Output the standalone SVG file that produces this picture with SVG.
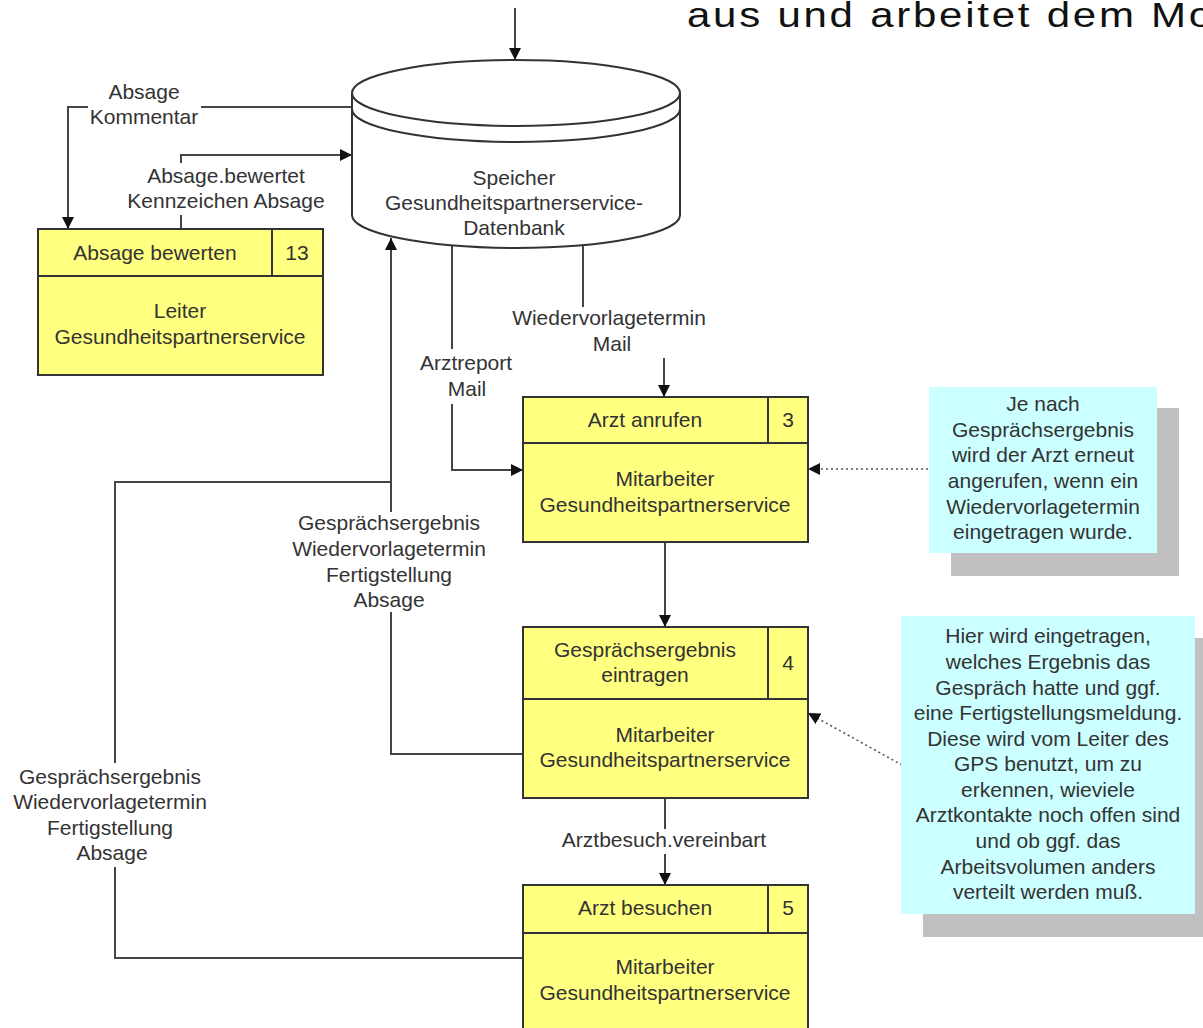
<svg xmlns="http://www.w3.org/2000/svg" width="1203" height="1028" viewBox="0 0 1203 1028">
  <style>
    text { font-family: "Liberation Sans", Arial, sans-serif; font-size: 21px; fill: #333; text-anchor: middle; }
    .box { fill: #ffff80; stroke: #333; stroke-width: 2; }
    .div { fill: none; stroke: #333; stroke-width: 2; }
    .flow { fill: none; stroke: #444; stroke-width: 2; }
    .dot { fill: none; stroke: #555; stroke-width: 1.6; stroke-dasharray: 2 3; }
    .bg { fill: #fff; }
    .note { fill: #ccffff; }
    .shadow { fill: #c0c0c0; }
    .title { font-size: 35px; fill: #111; text-anchor: start; letter-spacing: 2.3px; }
  </style>
  <defs>
    <marker id="arrow" viewBox="0 0 12 12" refX="12" refY="6" markerWidth="12" markerHeight="12" markerUnits="userSpaceOnUse" orient="auto">
      <path d="M0,0 L12,6 L0,12 Z" fill="#111"/>
    </marker>
  </defs>

  <rect width="1203" height="1028" fill="#fff"/>

  <!-- slide heading running off the right edge -->
  <text class="title" transform="translate(687,27) scale(1.2,1)">aus und arbeitet dem Mo</text>

  <!-- data flows -->
  <g id="connectors">
    <path class="flow" d="M515,8 V60" marker-end="url(#arrow)"/>
    <path class="flow" d="M352,107 H68 V229" marker-end="url(#arrow)"/>
    <path class="flow" d="M181,229 V155 H352" marker-end="url(#arrow)"/>
    <path class="flow" d="M452,245 V470 H523" marker-end="url(#arrow)"/>
    <path class="flow" d="M583,245 V335 H664 V397" marker-end="url(#arrow)"/>
    <path class="flow" d="M523,754 H391 V238" marker-end="url(#arrow)"/>
    <path class="flow" d="M523,958 H115 V482 H391"/>
    <path class="flow" d="M665,542 V627" marker-end="url(#arrow)"/>
    <path class="flow" d="M665,798 V885" marker-end="url(#arrow)"/>
    <path class="dot" d="M928,469 H808" marker-end="url(#arrow)"/>
    <path class="dot" d="M902,765 L808,713" marker-end="url(#arrow)"/>

    <!-- flow labels -->
    <g id="lbl-absage-kommentar">
      <rect class="bg" x="88" y="80" width="113" height="50"/>
      <text x="144" y="99">Absage</text>
      <text x="144" y="124">Kommentar</text>
    </g>
    <g id="lbl-absage-bewertet">
      <rect class="bg" x="125" y="163" width="205" height="52"/>
      <text x="226" y="183">Absage.bewertet</text>
      <text x="226" y="208">Kennzeichen Absage</text>
    </g>
    <g id="lbl-arztreport">
      <rect class="bg" x="417" y="349" width="98" height="55"/>
      <text x="466" y="370">Arztreport</text>
      <text x="467" y="396">Mail</text>
    </g>
    <g id="lbl-wiedervorlage">
      <rect class="bg" x="510" y="307" width="198" height="51"/>
      <text x="609" y="325">Wiedervorlagetermin</text>
      <text x="612" y="351">Mail</text>
    </g>
    <g id="lbl-ergebnis-mitte">
      <rect class="bg" x="292" y="512" width="194" height="100"/>
      <text x="389" y="530">Gesprächsergebnis</text>
      <text x="389" y="556">Wiedervorlagetermin</text>
      <text x="389" y="582">Fertigstellung</text>
      <text x="389" y="607">Absage</text>
    </g>
    <g id="lbl-ergebnis-links">
      <rect class="bg" x="12" y="763" width="198" height="104"/>
      <text x="110" y="784">Gesprächsergebnis</text>
      <text x="110" y="809">Wiedervorlagetermin</text>
      <text x="110" y="835">Fertigstellung</text>
      <text x="112" y="860">Absage</text>
    </g>
    <g id="lbl-arztbesuch">
      <rect class="bg" x="559" y="829" width="211" height="25"/>
      <text x="664" y="847">Arztbesuch.vereinbart</text>
    </g>
  </g>

  <!-- data store -->
  <g id="speicher">
    <path d="M352,93 A164,33 0 0 1 680,93 V215 A164,33 0 0 1 352,215 Z" fill="#fff" stroke="#333" stroke-width="2"/>
    <path class="div" d="M352,93 A164,33 0 0 0 680,93"/>
    <path class="div" d="M352,109 A164,33 0 0 0 680,109"/>
    <text x="514" y="185">Speicher</text>
    <text x="514" y="210">Gesundheitspartnerservice-</text>
    <text x="514" y="235">Datenbank</text>
  </g>

  <!-- function 13 -->
  <g id="fn-13">
    <rect class="box" x="38" y="229" width="285" height="146"/>
    <path class="div" d="M38,276 H323 M272,229 V276"/>
    <text x="155" y="260">Absage bewerten</text>
    <text x="297" y="260">13</text>
    <text x="180" y="318">Leiter</text>
    <text x="180" y="344">Gesundheitspartnerservice</text>
  </g>

  <!-- function 3 -->
  <g id="fn-3">
    <rect class="box" x="523" y="397" width="285" height="145"/>
    <path class="div" d="M523,443 H808 M768,397 V443"/>
    <text x="645" y="427">Arzt anrufen</text>
    <text x="788" y="427">3</text>
    <text x="665" y="486">Mitarbeiter</text>
    <text x="665" y="512">Gesundheitspartnerservice</text>
  </g>

  <!-- function 4 -->
  <g id="fn-4">
    <rect class="box" x="523" y="627" width="285" height="171"/>
    <path class="div" d="M523,699 H808 M768,627 V699"/>
    <text x="645" y="657">Gesprächsergebnis</text>
    <text x="645" y="682">eintragen</text>
    <text x="788" y="670">4</text>
    <text x="665" y="742">Mitarbeiter</text>
    <text x="665" y="767">Gesundheitspartnerservice</text>
  </g>

  <!-- function 5 -->
  <g id="fn-5">
    <rect class="box" x="523" y="885" width="285" height="160"/>
    <path class="div" d="M523,933 H808 M768,885 V933"/>
    <text x="645" y="915">Arzt besuchen</text>
    <text x="788" y="915">5</text>
    <text x="665" y="974">Mitarbeiter</text>
    <text x="665" y="1000">Gesundheitspartnerservice</text>
  </g>

  <!-- annotation for function 3 -->
  <g id="note-3">
    <rect class="shadow" x="951" y="408" width="228" height="168"/>
    <rect class="note" x="929" y="387" width="228" height="166"/>
    <text x="1043" y="411">Je nach</text>
    <text x="1043" y="437">Gesprächsergebnis</text>
    <text x="1043" y="462">wird der Arzt erneut</text>
    <text x="1043" y="488">angerufen, wenn ein</text>
    <text x="1043" y="514">Wiedervorlagetermin</text>
    <text x="1043" y="539">eingetragen wurde.</text>
  </g>

  <!-- annotation for function 4 -->
  <g id="note-4">
    <rect class="shadow" x="923" y="638" width="294" height="299"/>
    <rect class="note" x="901" y="616" width="294" height="298"/>
    <text x="1048" y="643">Hier wird eingetragen,</text>
    <text x="1048" y="669">welches Ergebnis das</text>
    <text x="1048" y="695">Gespräch hatte und ggf.</text>
    <text x="1048" y="720">eine Fertigstellungsmeldung.</text>
    <text x="1048" y="746">Diese wird vom Leiter des</text>
    <text x="1048" y="771">GPS benutzt, um zu</text>
    <text x="1048" y="797">erkennen, wieviele</text>
    <text x="1048" y="822">Arztkontakte noch offen sind</text>
    <text x="1048" y="848">und ob ggf. das</text>
    <text x="1048" y="874">Arbeitsvolumen anders</text>
    <text x="1048" y="899">verteilt werden muß.</text>
  </g>
</svg>
